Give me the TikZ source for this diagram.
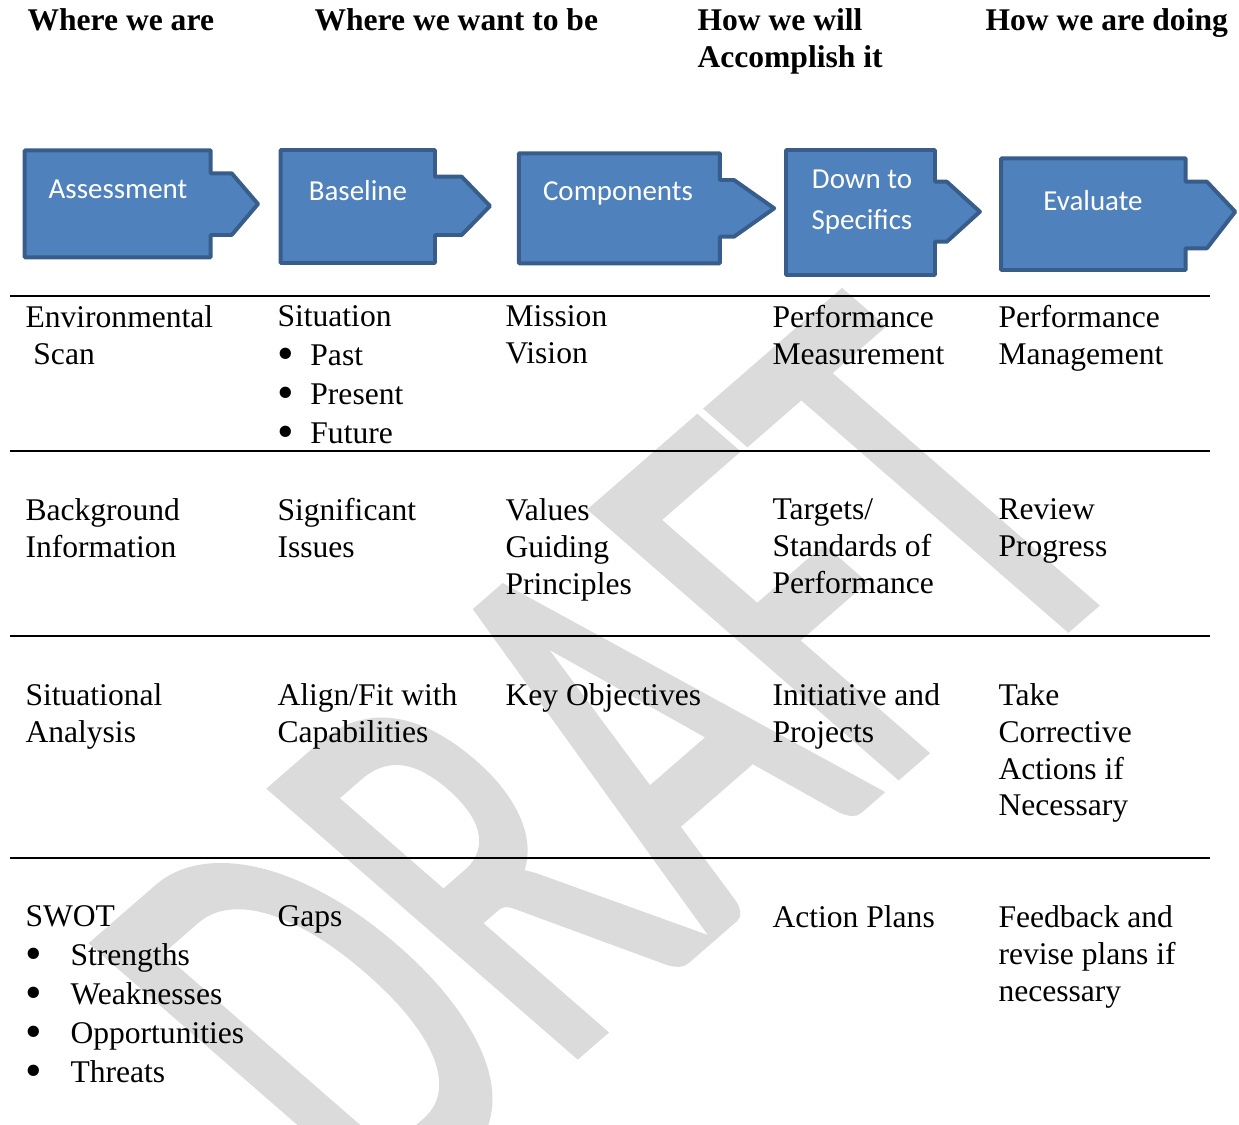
\documentclass[tikz,border=0pt]{standalone}
\usepackage{fontspec}
\usepackage{graphicx}
\setmainfont{Liberation Serif}
\newfontfamily\calibri{Carlito}
\newfontfamily\draftfont[FakeBold=2]{Carlito}
\usepackage{tikz}
\definecolor{stagefill}{HTML}{4F81BD}
\definecolor{stageline}{HTML}{385D8A}
\definecolor{draftgray}{HTML}{DBDBDB}
\newcommand{\bul}[1]{\makebox[#1][l]{\raisebox{-1.6pt}{\scalebox{1.5}{\textbullet}}}}

\begin{document}
\begin{tikzpicture}[x=0.38pt, y=-0.38pt,
   head/.style={anchor=north west, inner sep=0, align=left, font=\bfseries\fontsize{12}{14}\selectfont},
   cell/.style={anchor=north west, inner sep=0, align=left, font=\fontsize{12}{14}\selectfont},
   list/.style={cell, font=\fontsize{12}{14.8}\selectfont},
   stage/.style={draw=stageline, fill=stagefill, line width=1.5pt, line join=round},
   stagetext/.style={text=white, inner sep=0, align=center, font=\calibri\fontsize{11}{15.8}\selectfont},
   rule/.style={line width=0.76pt},
   draftmark/.style={text=draftgray, inner sep=0, font=\draftfont\fontsize{253}{253}\selectfont,
                     yscale=0.87, rotate=45, xscale=0.61}]
   \useasboundingbox (0,0) rectangle (1239,1125);
   \clip (0,0) rectangle (1239,1125);

   \node[draftmark] (wm) at (613,758) {DRAFT};

   \node[head] (hdA) at (27,8)  {Where we are};
   \node[head] (hdB) at (314,8) {Where we want to be};
   \node[head] (hdC) at (697,8) {How we will\\Accomplish it};
   \node[head] (hdD) at (985,8) {How we are doing};

   \foreach \l/\t/\r/\b/\na/\nx/\tx/\ty/\nb in {
      24.7/150.3/210.7/257.3/173.3/231.7/258/204/235,
      280.7/150/435/263/176.7/461.7/490/206/235,
      518.9/153.3/719.9/263.3/180/734/774.2/208.3/236.7,
      786/150/935/275/181.7/946.8/979.9/211.7/241.7,
      1001.2/158.3/1185.6/270/181.7/1206.9/1235.2/211.7/248.3}
      \draw[stage] (\l,\t) -- (\r,\t) -- (\r,\na) -- (\nx,\na) -- (\tx,\ty)
         -- (\nx,\nb) -- (\r,\nb) -- (\r,\b) -- (\l,\b) -- cycle;

   \node[stagetext] (assess) at (118,189)  {Assessment};
   \node[stagetext] (base)   at (358,191)  {Baseline};
   \node[stagetext] (comp)   at (618,193)  {Components};
   \node[stagetext] (down)   at (862,202)  {Down to\\Specifics};
   \node[stagetext] (eval)   at (1093,201) {Evaluate};

   \foreach \y in {296,451,636,858}
      \draw[rule] (10,\y) -- (1210,\y);

   \node[cell] (c11) at (25,305)  {Environmental\\\hspace*{3pt}Scan};
   \node[list] (c12) at (277,305) {Situation\\\bul{12.5pt}Past\\\bul{12.5pt}Present\\\bul{12.5pt}Future};
   \node[cell] (c13) at (505,305) {Mission\\Vision};
   \node[cell] (c14) at (772,305) {Performance\\Measurement};
   \node[cell] (c15) at (998,305) {Performance\\Management};

   \node[cell] (c21) at (25,498)  {Background\\Information};
   \node[cell] (c22) at (277,498) {Significant\\Issues};
   \node[cell] (c23) at (505,498) {Values\\Guiding\\Principles};
   \node[cell] (c24) at (772,498) {Targets/\\Standards of\\Performance};
   \node[cell] (c25) at (998,498) {Review\\Progress};

   \node[cell] (c31) at (25,683)  {Situational\\Analysis};
   \node[cell] (c32) at (277,683) {Align/Fit with\\Capabilities};
   \node[cell] (c33) at (505,683) {Key Objectives};
   \node[cell] (c34) at (772,683) {Initiative and\\Projects};
   \node[cell] (c35) at (998,683) {Take\\Corrective\\Actions if\\Necessary};

   \node[list] (c41) at (25,905)  {SWOT\\\bul{17.1pt}Strengths\\\bul{17.1pt}Weaknesses\\\bul{17.1pt}Opportunities\\\bul{17.1pt}Threats};
   \node[cell] (c42) at (277,905) {Gaps};
   \node[cell] (c44) at (772,905) {Action Plans};
   \node[cell] (c45) at (998,905) {Feedback and\\revise plans if\\necessary};
\end{tikzpicture}
\end{document}
